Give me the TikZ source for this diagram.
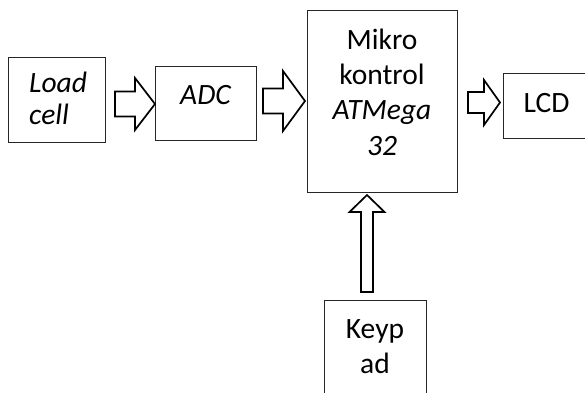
\documentclass[tikz,border=0pt]{standalone}
\usepackage{fontspec}
\setmainfont{Carlito}
\usetikzlibrary{calc}
\tikzset{
  box/.style={draw=black!85, line width=0.9pt, inner sep=0pt, outer sep=0pt},
  lbl/.style={anchor=base, inner sep=0pt, font=\fontsize{29.5}{34}\selectfont},
  lblit/.style={lbl, font=\fontsize{29.5}{34}\selectfont\itshape},
  blk/.style={draw=black, line width=1.7pt, fill=white, line join=miter}
}
\newcommand{\blockarrow}[6]{%
  \draw[blk, shift={#1}, rotate=#2] (0,0) -- (-#4,-#6) -- (-#4,-#5) -- (-#3,-#5)
    -- (-#3,#5) -- (-#4,#5) -- (-#4,#6) -- cycle;}
\begin{document}
\begin{tikzpicture}[x=1pt, y=-1pt]
\useasboundingbox (0,0) rectangle (585,392);
\clip (0,0) rectangle (585,392);
% boxes
\node[box, minimum width=97pt, minimum height=85pt] (load) at (56.5,99.5) {};
\node[box, minimum width=101pt, minimum height=74pt] (adc) at (205.5,103) {};
\node[box, minimum width=150pt, minimum height=182pt] (mcu) at (382,101) {};
\node[box, minimum width=100pt, minimum height=65pt] (lcd) at (553,105.5) {};
\node[box, minimum width=102pt, minimum height=110pt] (key) at (375,355) {};
% texts
\node[lblit, anchor=base west] (t1) at (29,92) {Load};
\node[lblit, anchor=base west] (t2) at (29,124) {cell};
\node[lblit] (t3) at (205.5,104) {ADC};
\node[lbl] (t4) at (382,49) {Mikro};
\node[lbl] (t5) at (382,84) {kontrol};
\node[lblit] (t6) at (382,119.5) {ATMega};
\node[lblit] (t7) at (382,155.5) {32};
\node[lbl] (t8) at (546.5,112) {LCD};
\node[lbl] (t9) at (375,338) {Keyp};
\node[lbl] (t10) at (375,373) {ad};
% block arrows: tip, rotation, length, head start, shaft half, head half
\blockarrow{($(adc.west)+(0,1)$)}{0}{40}{20}{12.5}{26}
\blockarrow{($(mcu.west)+(-2,0)$)}{0}{42}{22}{12.5}{30}
\blockarrow{($(lcd.west)+(-3,-3)$)}{0}{32}{16}{10.5}{22.5}
\blockarrow{($(mcu.south)+(-15,3)$)}{90}{97}{17}{6}{17.5}
\end{tikzpicture}
\end{document}
